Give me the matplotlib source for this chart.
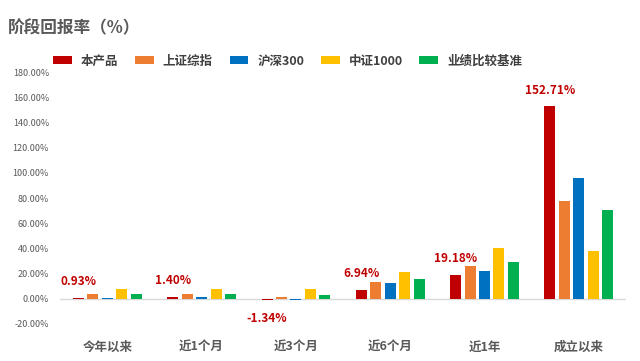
import matplotlib.pyplot as plt
import numpy as np

plt.rcParams['font.family'] = ['Noto Sans CJK SC', 'DejaVu Sans']

categories = ['今年以来', '近1个月', '近3个月', '近6个月', '近1年', '成立以来']
series_names = ['本产品', '上证综指', '沪深300', '中证1000', '业绩比较基准']
product = [0.93, 1.40, -1.34, 6.94, 19.18, 152.71]
sse = [3.5, 3.5, 1.5, 13.5, 26.2, 77.8]
csi300 = [1.0, 1.2, -1.2, 12.7, 22.2, 96.0]
csi1000 = [8.0, 8.0, 8.0, 21.4, 40.5, 38.3]
benchmark = [4.0, 4.0, 3.0, 15.9, 29.4, 70.6]
yticks = [-20, 0, 20, 40, 60, 80, 100, 120, 140, 160, 180]

colors = ['#C00000', '#ED7D31', '#0070C0', '#FFC000', '#00B050']
all_series = [product, sse, csi300, csi1000, benchmark]

fig = plt.figure(figsize=(6.4, 3.61), dpi=100)
ax = fig.add_axes([0.094, 0.1025, 0.884, 0.698])

x = np.arange(len(categories))
pitch = 0.153
width = 0.117
for i, (vals, c, name) in enumerate(zip(all_series, colors, series_names)):
    ax.bar(x + (i - 2) * pitch, vals, width=width, color=c, label=name, zorder=2)

# 本产品数据标签
for xi, v in zip(x - 2 * pitch, product):
    if v >= 0:
        ax.annotate(f'{v:.2f}%', (xi, v), xytext=(0, 7), textcoords='offset points',
                    ha='center', va='bottom', color='#C00000', fontsize=8.5, fontweight='bold')
    else:
        ax.annotate(f'{v:.2f}%', (xi, v), xytext=(0, -8), textcoords='offset points',
                    ha='center', va='top', color='#C00000', fontsize=8.5, fontweight='bold')

ax.set_xlim(-0.5, len(categories) - 0.5)
ax.set_ylim(-20, 180)
ax.set_yticks(yticks)
ax.set_yticklabels([f'{t:.2f}%' for t in yticks], fontsize=6.5, color='#595959')
ax.set_xticks(x)
ax.set_xticklabels(categories, fontsize=9, fontweight='bold', color='#595959')
ax.tick_params(axis='both', length=0)
ax.tick_params(axis='x', pad=12)
ax.tick_params(axis='y', pad=8)
for s in ax.spines.values():
    s.set_visible(False)
ax.axhline(0, color='#D9D9D9', lw=1, zorder=1)

fig.text(0.013, 0.922, '阶段回报率（%）', fontsize=12, fontweight='bold', color='#595959',
         va='center', ha='left')

leg = fig.legend(loc='center left', bbox_to_anchor=(0.066, 0.831), ncol=5, frameon=False,
                 handlelength=1.5, handleheight=0.55, handletextpad=0.7, columnspacing=1.35,
                 prop={'size': 9, 'weight': 'bold'})
for t in leg.get_texts():
    t.set_color('#404040')

fig.savefig('out.png', dpi=100)
